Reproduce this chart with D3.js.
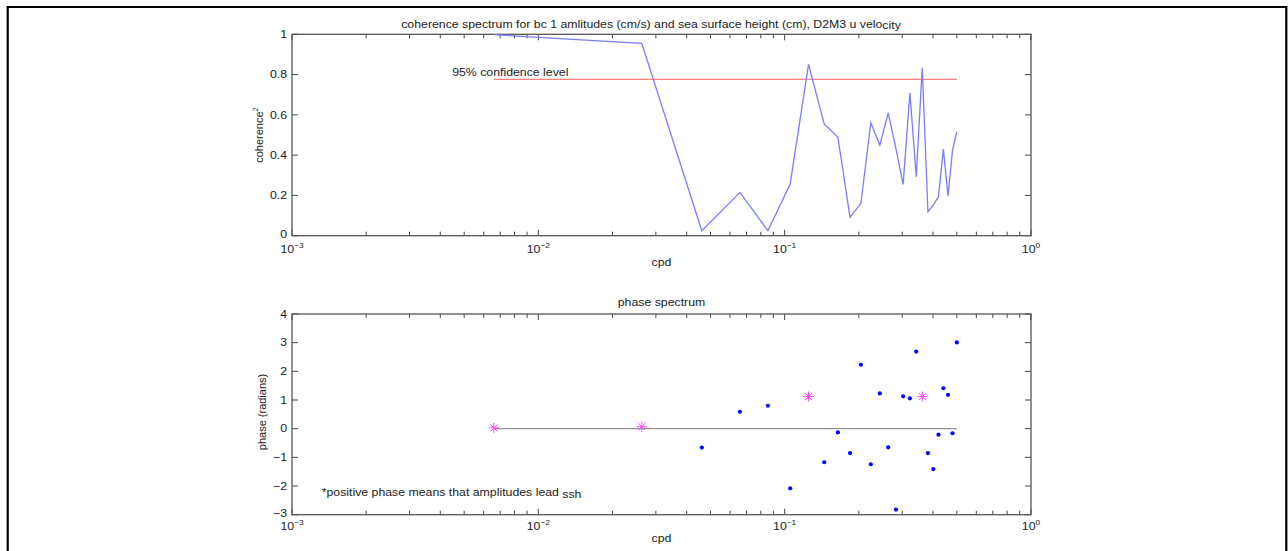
<!DOCTYPE html>
<html>
<head>
<meta charset="utf-8">
<script src="https://cdn.jsdelivr.net/npm/d3@7"></script>
<style>
  html, body { margin: 0; padding: 0; background: #fff; }
  text { font-family: "Liberation Sans", Arial, sans-serif; fill: #222; }
</style>
</head>
<body>
<script>
// frequencies (cpd)
var freq = [0.0066, 0.0263, 0.0461, 0.0658, 0.0855, 0.1053, 0.125, 0.1447, 0.1645, 0.1842,
            0.2039, 0.2237, 0.2434, 0.2632, 0.2829, 0.3026, 0.3224, 0.3421, 0.3618, 0.3816,
            0.4013, 0.4211, 0.4408, 0.4605, 0.4803, 0.5];
// coherence^2
var coh = [0.998, 0.955, 0.025, 0.215, 0.025, 0.257, 0.851, 0.555, 0.489, 0.091,
           0.161, 0.561, 0.45, 0.61, 0.432, 0.255, 0.71, 0.293, 0.834, 0.119,
           0.152, 0.194, 0.43, 0.197, 0.425, 0.516];
// phase (radians)
var phase = [0.03, 0.07, -0.66, 0.59, 0.80, -2.08, 1.12, -1.17, -0.13, -0.85,
             2.23, -1.24, 1.23, -0.65, -2.82, 1.13, 1.06, 2.69, 1.12, -0.85,
             -1.41, -0.21, 1.41, 1.18, -0.16, 3.01];
var confLevel = 0.776;

var xTickVals = [0.001, 0.01, 0.1, 1];
var xTickExp = ["\u22123", "\u22122", "\u22121", "0"];
var cohTicks = [0, 0.2, 0.4, 0.6, 0.8, 1];
var cohTickLabels = ["0", "0.2", "0.4", "0.6", "0.8", "1"];
var phaseTicks = [-3, -2, -1, 0, 1, 2, 3, 4];
var phaseTickLabels = ["\u22123", "\u22122", "\u22121", "0", "1", "2", "3", "4"];

var W = 1288, H = 551;
var SX = 1.12;   // text in the picture is a bit stretched sideways
var FS = 11;

var svg = d3.select("body").append("svg")
  .attr("width", W).attr("height", H);
svg.append("rect").attr("width", W).attr("height", H).attr("fill", "#fff");

// outer frame
svg.append("path")
  .attr("d", "M7.7,551 V7 H1286.3 V551")
  .attr("fill", "none").attr("stroke", "#000").attr("stroke-width", 2.2);

function label(g, x, y, str, anchor, size) {
  return g.append("text")
    .attr("transform", "translate(" + x + "," + y + ") scale(" + SX + ",1)")
    .attr("text-anchor", anchor || "start")
    .attr("font-size", size || FS)
    .text(str);
}

var x = d3.scaleLog().domain([0.001, 1]).range([292, 1031]);
var minorTicks = [];
[0.001, 0.01, 0.1].forEach(function (d) {
  for (var m = 2; m <= 9; m++) minorTicks.push(d * m);
});

function drawFrame(y, yTicks, yLabels, xLabelBase) {
  var g = svg.append("g");
  var x0 = x.range()[0], x1 = x.range()[1];
  var yb = y.range()[0], yt = y.range()[1];
  var tick = "#444";
  // x ticks, bottom and top, pointing in
  xTickVals.forEach(function (d) {
    g.append("line").attr("x1", x(d)).attr("x2", x(d)).attr("y1", yb).attr("y2", yb - 6)
      .attr("stroke", tick);
    g.append("line").attr("x1", x(d)).attr("x2", x(d)).attr("y1", yt).attr("y2", yt + 6)
      .attr("stroke", tick);
  });
  minorTicks.forEach(function (d) {
    g.append("line").attr("x1", x(d)).attr("x2", x(d)).attr("y1", yb).attr("y2", yb - 4)
      .attr("stroke", tick);
    g.append("line").attr("x1", x(d)).attr("x2", x(d)).attr("y1", yt).attr("y2", yt + 4)
      .attr("stroke", tick);
  });
  yTicks.forEach(function (d, i) {
    g.append("line").attr("x1", x0).attr("x2", x0 + 6).attr("y1", y(d)).attr("y2", y(d))
      .attr("stroke", tick);
    g.append("line").attr("x1", x1).attr("x2", x1 - 6).attr("y1", y(d)).attr("y2", y(d))
      .attr("stroke", tick);
    // lowest label sits a little higher so it clears the x tick label
    label(g, x0 - 5, y(d) + (i === 0 ? 1.8 : 3.8), yLabels[i], "end");
  });
  g.append("rect").attr("x", x0).attr("y", yt).attr("width", x1 - x0).attr("height", yb - yt)
    .attr("fill", "none").attr("stroke", "#555").attr("stroke-width", 1.3);
  xTickVals.forEach(function (d, i) {
    var t = label(g, x(d), xLabelBase, "10", "middle");
    t.append("tspan").attr("dy", -5).attr("font-size", 7.5).text(xTickExp[i]);
  });
  return g;
}

// ---- coherence panel ----
var yc = d3.scaleLinear().domain([0, 1]).range([235.7, 34.3]);
var gc = drawFrame(yc, cohTicks, cohTickLabels, 252.5);

gc.append("line")
  .attr("x1", x(freq[0])).attr("x2", x(freq[freq.length - 1]))
  .attr("y1", yc(confLevel)).attr("y2", yc(confLevel))
  .attr("stroke", "#ff7f7f").attr("stroke-width", 1.2);

gc.append("path")
  .datum(freq.map(function (f, i) { return [f, coh[i]]; }))
  .attr("fill", "none").attr("stroke", "#7b7bff").attr("stroke-width", 1.3)
  .attr("d", d3.line().x(function (d) { return x(d[0]); }).y(function (d) { return yc(d[1]); }));

label(gc, x(0.00447), yc(0.795), "95% confidence level", "start");

var tt = label(gc, 651, 27.5, "coherence spectrum for bc 1 amlitudes (cm/s) and sea surface height (cm), D2M3 u velo", "middle");
tt.append("tspan").attr("dy", 1.5).text("city");

label(gc, 661.5, 266, "cpd", "middle");

var yl = gc.append("text")
  .attr("transform", "translate(263,135) rotate(-90)")
  .attr("text-anchor", "middle").attr("font-size", FS)
  .text("coherence");
yl.append("tspan").attr("dy", -5).attr("font-size", 7.5).text("2");

// ---- phase panel ----
var yp = d3.scaleLinear().domain([-3, 4]).range([514.7, 314]);
var gp = drawFrame(yp, phaseTicks, phaseTickLabels, 529.5);

gp.append("line")
  .attr("x1", x(freq[0])).attr("x2", x(freq[freq.length - 1]))
  .attr("y1", yp(0)).attr("y2", yp(0))
  .attr("stroke", "#777").attr("stroke-width", 1);

var pts = freq.map(function (f, i) { return { f: f, p: phase[i], sig: coh[i] > confLevel }; });

gp.selectAll("circle.dot")
  .data(pts.filter(function (d) { return !d.sig; }))
  .enter().append("circle").attr("class", "dot")
  .attr("cx", function (d) { return x(d.f); })
  .attr("cy", function (d) { return yp(d.p); })
  .attr("r", 2.1).attr("fill", "#0000ff");

var r = 5, rd = 3.6;
var star = "M" + (-r) + ",0H" + r + "M0," + (-r) + "V" + r +
           "M" + (-rd) + "," + (-rd) + "L" + rd + "," + rd +
           "M" + (-rd) + "," + rd + "L" + rd + "," + (-rd);
gp.selectAll("path.star")
  .data(pts.filter(function (d) { return d.sig; }))
  .enter().append("path").attr("class", "star")
  .attr("transform", function (d) { return "translate(" + x(d.f) + "," + yp(d.p) + ")"; })
  .attr("d", star).attr("stroke", "#ff44ff").attr("stroke-width", 1).attr("fill", "none");

label(gp, 661.5, 305.7, "phase spectrum", "middle");
label(gp, 661.5, 542, "cpd", "middle");

var an = label(gp, x(0.00132), yp(-2.34), "*positive phase means that amplitudes lead ", "start");
an.append("tspan").attr("dy", 2).text("ssh");

gp.append("text")
  .attr("transform", "translate(266,412) rotate(-90)")
  .attr("text-anchor", "middle").attr("font-size", FS)
  .text("phase (radians)");
</script>
</body>
</html>
